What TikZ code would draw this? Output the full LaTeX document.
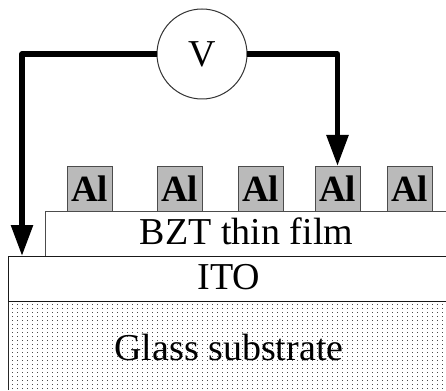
\documentclass[tikz,border=0pt]{standalone}
\usepackage{fontspec}
\setmainfont{Liberation Serif}
\usetikzlibrary{arrows.meta}
\tikzset{
 albox/.style={draw=black!70,line width=0.9pt,fill=black!27,minimum width=45pt,minimum height=45pt,inner sep=0pt,outer sep=0pt,font=\fontsize{37}{37}\selectfont\bfseries},
 lead/.style={line width=5.5pt,line join=round,line cap=butt,-{Triangle[length=31pt,width=21pt]}},
 label/.style={font=\fontsize{38}{38}\selectfont,inner sep=0pt}
}
\begin{document}
\begin{tikzpicture}[x=1pt,y=-1pt]
\useasboundingbox (0,0) rectangle (446,390);
\fill[white] (0,0) rectangle (446,390);
\begin{scope}
\clip (9,302) rectangle (446,390);
\foreach \r in {0,...,22}{
  \foreach \c in {0,...,88}{
    \fill[black!70] ({12+5*\c},{304+4*\r}) rectangle +(1.1,1.1);
  }
}
\end{scope}
\draw[black!85,line width=1pt] (8.5,390) -- (8.5,301);
\draw[draw=black!70,line width=1pt,fill=white] (45,256) -- (45,211) -- (446,211) -- (446,256);
\draw[draw=black!90,line width=1pt,fill=white] (446,301) -- (8.5,301) -- (8.5,256) -- (446,256);
\node[label] (bzt) at (246.5,231.5) {BZT thin film};
\node[label] (ito) at (229,277.5) {ITO};
\node[label] (glass) at (229,347) {Glass substrate};
\node[albox] (a1) at (89.5,188.5) {Al};
\node[albox] (a2) at (179.5,188.5) {Al};
\node[albox] (a3) at (260.5,188.5) {Al};
\node[albox] (a4) at (337.5,188.5) {Al};
\node[albox] (a5) at (409.5,188.5) {Al};
\node[circle,draw=black!80,line width=1pt,fill=white,minimum size=90pt,inner sep=0pt,outer sep=0pt,font=\fontsize{38}{38}\selectfont] (v) at (202,54) {V};
\coordinate (gnd) at (22,256);
\draw[lead] (v.west) -- (22,54) -- (gnd);
\draw[lead] (v.east) -- (337.5,54) -- (a4.north);
\end{tikzpicture}
\end{document}
